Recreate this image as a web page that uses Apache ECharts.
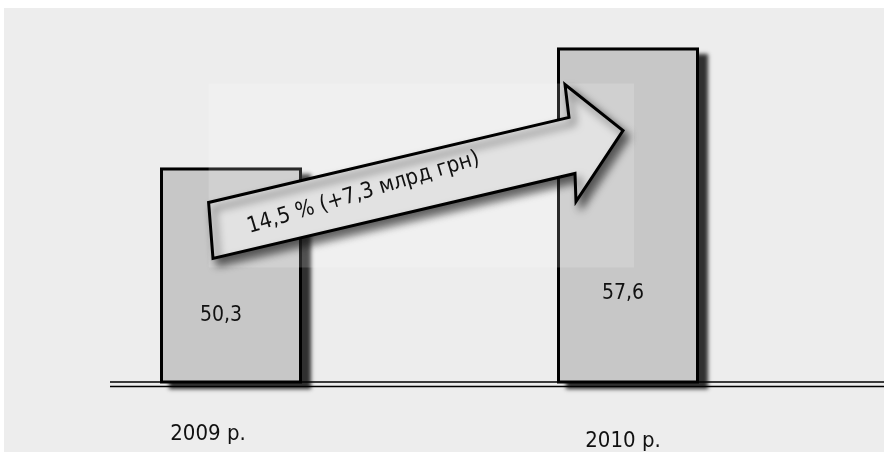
<!DOCTYPE html>
<html>
<head>
<meta charset="utf-8">
<script src="https://cdn.jsdelivr.net/npm/echarts@6/dist/echarts.min.js"></script>
<style>
  html, body { margin: 0; padding: 0; background: #ffffff; }
  #chart { position: absolute; left: 4px; top: 8px; width: 880px; height: 444px; background: #ededed; }
</style>
</head>
<body>
<div id="chart"></div>
<script>
// Budget revenue, bn UAH
const years = ['2009 р.', '2010 р.'];
const revenue = [50.3, 57.6];
const growthText = '14,5 % (+7,3 млрд грн)';

// label placement per bar / per category
const valueLabelOffsets = [[-10, 40], [-5, 78]];
const yearLabelPadding = [[0, 46, 0, 0], [7, 10, 0, 0]];

const FONT = '"Liberation Sans Narrow", "DejaVu Sans Condensed", "Noto Sans", sans-serif';
const fmt = v => String(v).replace('.', ',');
const BAR_W = 142;

const chart = echarts.init(document.getElementById('chart'), null, { renderer: 'canvas' });

chart.setOption({
  animation: false,
  grid: { left: 28.5, right: 57.5, top: 0, bottom: 65 },
  xAxis: {
    type: 'category',
    data: years.map((y, i) => ({ value: y, textStyle: { padding: yearLabelPadding[i] } })),
    axisLine: { show: false },
    axisTick: { show: false },
    axisLabel: { margin: 41, fontFamily: FONT, fontSize: 22, color: '#111' }
  },
  yAxis: {
    type: 'value', min: 37.25, max: 60,
    show: false, splitLine: { show: false }
  },
  series: [
    {
      // filled body with drop shadow
      type: 'bar',
      barWidth: BAR_W,
      data: revenue,
      itemStyle: {
        color: '#c7c7c7',
        shadowColor: 'rgba(0,0,0,0.8)',
        shadowBlur: 4,
        shadowOffsetX: 9,
        shadowOffsetY: 7
      }
    },
    {
      // black outline and value label on top of the body
      type: 'bar',
      barWidth: BAR_W,
      barGap: '-100%',
      data: revenue.map((v, i) => ({ value: v, label: { offset: valueLabelOffsets[i] } })),
      itemStyle: { color: 'rgba(0,0,0,0)', borderColor: '#000', borderWidth: 3 },
      label: {
        show: true, position: 'inside',
        formatter: p => fmt(p.value),
        fontFamily: FONT, fontSize: 21, color: '#111'
      }
    }
  ]
});

// Annotation arrow anchored to the tops of both bars
const c1 = chart.convertToPixel({ xAxisIndex: 0, yAxisIndex: 0 }, [0, revenue[0]]);
const c2 = chart.convertToPixel({ xAxisIndex: 0, yAxisIndex: 0 }, [1, revenue[1]]);
const base = chart.convertToPixel({ xAxisIndex: 0, yAxisIndex: 0 }, [0, 37.25])[1];
const rel = (c, dx, dy) => [c[0] + dx, c[1] + dy];

const arrowPts = [
  rel(c1, -18, 91),
  rel(c1, -22.4, 35),
  rel(c2, -59, 70),
  rel(c2, -63, 37),
  rel(c2, -5, 83),
  rel(c2, -52, 154),
  rel(c2, -53, 126)
];
const tailMid = [(arrowPts[0][0] + arrowPts[1][0]) / 2, (arrowPts[0][1] + arrowPts[1][1]) / 2];
const notchMid = [(arrowPts[2][0] + arrowPts[6][0]) / 2, (arrowPts[2][1] + arrowPts[6][1]) / 2];
const angle = Math.atan2(-(notchMid[1] - tailMid[1]), notchMid[0] - tailMid[0]);
const textX = (tailMid[0] + notchMid[0]) / 2 - 28;
const textY = (tailMid[1] + notchMid[1]) / 2 + 5;

const hazeLeft = arrowPts[1][0];
const hazeTop = arrowPts[3][1] - 1;
const hazeRight = arrowPts[4][0] + 11;
const hazeBottom = arrowPts[0][1] + 9;

chart.setOption({
  graphic: [
    {
      type: 'rect', z: 3, silent: true,
      shape: { x: hazeLeft, y: hazeTop, width: hazeRight - hazeLeft, height: hazeBottom - hazeTop },
      style: { fill: 'rgba(255,255,255,0.16)' }
    },
    {
      type: 'line', z: 4, silent: true,
      shape: { x1: 106, y1: base, x2: 880, y2: base },
      style: { stroke: '#000', lineWidth: 1.5 }
    },
    {
      type: 'line', z: 4, silent: true,
      shape: { x1: 106, y1: base + 4.5, x2: 880, y2: base + 4.5 },
      style: { stroke: '#000', lineWidth: 1.5 }
    },
    {
      type: 'polygon', z: 5, silent: true,
      shape: { points: arrowPts },
      style: {
        fill: '#e2e2e2', stroke: '#000', lineWidth: 3, lineJoin: 'miter',
        shadowColor: 'rgba(0,0,0,0.6)', shadowBlur: 8, shadowOffsetX: 5, shadowOffsetY: 6
      }
    },
    {
      type: 'text', z: 6, silent: true,
      x: textX, y: textY, rotation: angle + 0.06,
      style: {
        text: growthText, fill: '#111', font: '22px ' + FONT,
        align: 'center', verticalAlign: 'middle'
      }
    }
  ]
});
</script>
</body>
</html>
